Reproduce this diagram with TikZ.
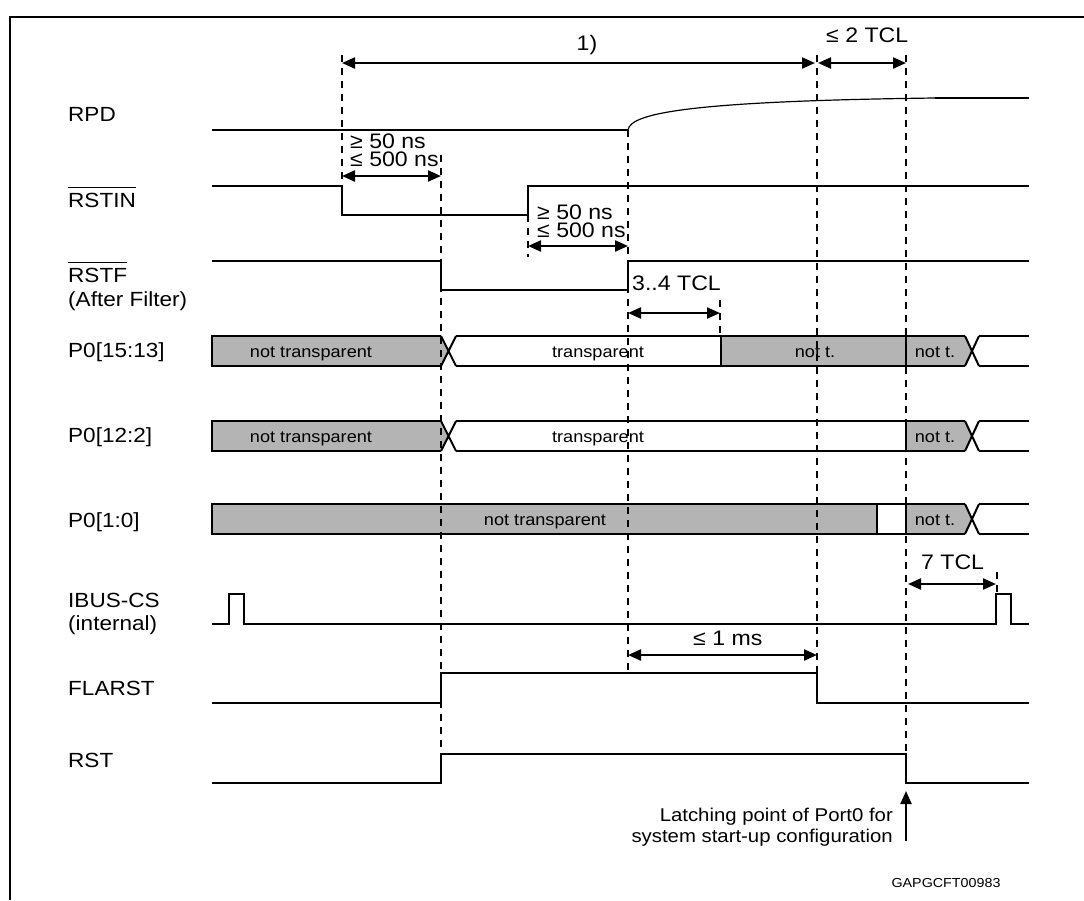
\documentclass[tikz,border=0pt]{standalone}
\usepackage{fontspec}
\setmainfont{Liberation Sans}[FakeStretch=1.1]
\usetikzlibrary{arrows.meta}
\definecolor{busgrey}{HTML}{B4B4B4}
\begin{document}
\begin{tikzpicture}[x=1pt,y=-1pt,
  sig/.style={line width=2pt},
  guide/.style={line width=1.8pt, dash pattern=on 7pt off 6pt},
  meas/.style={line width=2.2pt, {Triangle[length=13pt,width=11pt]}-{Triangle[length=13pt,width=11pt]}},
  uparrow/.style={line width=2.2pt, -{Triangle[length=13pt,width=11pt]}},
  lbl/.style={font=\fontsize{20.5}{24}\selectfont, anchor=base west, inner sep=0pt},
  ann/.style={font=\fontsize{21}{24}\selectfont, anchor=base west, inner sep=0pt},
  twoline/.style={font=\fontsize{21}{18}\selectfont, align=left, anchor=base west, inner sep=0pt},
  note/.style={font=\fontsize{18.5}{21}\selectfont, anchor=base east, inner sep=0pt},
  code/.style={font=\fontsize{13}{15}\selectfont, anchor=base, inner sep=0pt},
  bustxt/.style={font=\fontsize{16.5}{18}\selectfont, anchor=base, inner sep=0pt},
  ovl/.style={line width=1.6pt}]
\useasboundingbox (0,0) rectangle (1084,900);
% frame
\draw[line width=2pt] (10,900) -- (10,17) -- (1084,17);

% ---------- signal labels
\node[lbl] (lrpd) at (68,121) {RPD};
\node[lbl] (lrstin) at (68,207) {RSTIN};
\draw[ovl] ([yshift=5pt]lrstin.north west) -- ([yshift=5pt]lrstin.north east);
\node[lbl] (lrstf) at (68,282) {RSTF};
\draw[ovl] ([yshift=5pt]lrstf.north west) -- ([yshift=5pt]lrstf.north east);
\node[lbl] (lafter) at (68,306) {(After Filter)};
\node[lbl] (lp1) at (68,357) {P0[15:13]};
\node[lbl] (lp2) at (68,442) {P0[12:2]};
\node[lbl] (lp3) at (68,527) {P0[1:0]};
\node[lbl] (libus) at (68,607) {IBUS-CS};
\node[lbl] (lint) at (68,630) {(internal)};
\node[lbl] (lfla) at (68,695) {FLARST};
\node[lbl] (lrst) at (68,767) {RST};

% ---------- bus rows
% row 1: P0[15:13]
\begin{scope}[shift={(0,336)}]
  \fill[busgrey] (212,0) -- (441,0) -- (448.5,15) -- (441,30) -- (212,30) -- cycle;
  \fill[busgrey] (721,0) rectangle (906,30);
  \fill[busgrey] (906,0) -- (965,0) -- (972,15) -- (965,30) -- (906,30) -- cycle;
  \draw[sig] (441,0) -- (212,0) -- (212,30) -- (441,30);
  \draw[sig] (441,0) -- (456,30) (441,30) -- (456,0);
  \draw[sig] (456,0) -- (965,0) (456,30) -- (965,30);
  \draw[sig] (721,0) -- (721,30) (906,0) -- (906,30);
  \draw[sig] (965,0) -- (979,30) (965,30) -- (979,0);
  \draw[sig] (979,0) -- (1029,0) (979,30) -- (1029,30);
  \node[bustxt] (t1a) at (311,21) {not transparent};
  \node[bustxt] (t1b) at (598,21) {transparent};
  \node[bustxt] (t1c) at (815,21) {not t.};
  \node[bustxt] (t1d) at (935,21) {not t.};
\end{scope}
% row 2: P0[12:2]
\begin{scope}[shift={(0,421)}]
  \fill[busgrey] (212,0) -- (441,0) -- (448.5,15) -- (441,30) -- (212,30) -- cycle;
  \fill[busgrey] (906,0) -- (965,0) -- (972,15) -- (965,30) -- (906,30) -- cycle;
  \draw[sig] (441,0) -- (212,0) -- (212,30) -- (441,30);
  \draw[sig] (441,0) -- (456,30) (441,30) -- (456,0);
  \draw[sig] (456,0) -- (965,0) (456,30) -- (965,30);
  \draw[sig] (906,0) -- (906,30);
  \draw[sig] (965,0) -- (979,30) (965,30) -- (979,0);
  \draw[sig] (979,0) -- (1029,0) (979,30) -- (1029,30);
  \node[bustxt] (t2a) at (311,21) {not transparent};
  \node[bustxt] (t2b) at (598,21) {transparent};
  \node[bustxt] (t2d) at (935,21) {not t.};
\end{scope}
% row 3: P0[1:0]
\begin{scope}[shift={(0,504)}]
  \fill[busgrey] (212,0) rectangle (877,30);
  \fill[busgrey] (906,0) -- (965,0) -- (972,15) -- (965,30) -- (906,30) -- cycle;
  \draw[sig] (965,0) -- (212,0) -- (212,30) -- (965,30);
  \draw[sig] (877,0) -- (877,30) (906,0) -- (906,30);
  \draw[sig] (965,0) -- (979,30) (965,30) -- (979,0);
  \draw[sig] (979,0) -- (1029,0) (979,30) -- (1029,30);
  \node[bustxt] (t3a) at (545,21) {not transparent};
  \node[bustxt] (t3d) at (935,21) {not t.};
\end{scope}

% ---------- guides
\draw[guide] (342,55) -- (342,184);
\draw[guide] (441,155) -- (441,752);
\draw[guide] (528,215) -- (528,257);
\draw[guide] (628,130) -- (628,671);
\draw[guide] (720,300) -- (720,336);
\draw[guide] (817,55) -- (817,673);
\draw[guide] (906,55) -- (906,754);
\draw[guide] (997,572) -- (997,594);

% ---------- signals
\draw[sig] (212,130) -- (628,130);
\draw[line width=1.2pt] (628,130) .. controls (630,112) and (700,101) .. (935,98);
\draw[sig] (935,98) -- (1029,98);
\draw[sig] (212,186) -- (342,186) -- (342,215) -- (528,215) -- (528,186) -- (1029,186);
\draw[sig] (212,261) -- (441,261) -- (441,290) -- (628,290) -- (628,261) -- (1029,261);
\draw[sig] (212,624) -- (229,624) -- (229,594) -- (244,594) -- (244,624) -- (996,624) -- (996,594) -- (1011,594) -- (1011,624) -- (1029,624);
\draw[sig] (212,703) -- (441,703) -- (441,673) -- (817,673) -- (817,703) -- (1029,703);
\draw[sig] (212,783) -- (441,783) -- (441,754) -- (906,754) -- (906,783) -- (1029,783);

% ---------- measurements
\coordinate (m1a) at (342,63); \coordinate (m1b) at (815,63);
\coordinate (m2a) at (818,63); \coordinate (m2b) at (906,63);
\coordinate (m3a) at (342,176); \coordinate (m3b) at (441,176);
\coordinate (m4a) at (528,246); \coordinate (m4b) at (628,246);
\coordinate (m5a) at (628,313); \coordinate (m5b) at (720,313);
\coordinate (m6a) at (908,584); \coordinate (m6b) at (996,584);
\coordinate (m7a) at (628,655); \coordinate (m7b) at (817,655);
\coordinate (latS) at (906,841); \coordinate (latE) at (906,791);
\draw[meas] (m1a) -- (m1b);
\draw[meas] (m2a) -- (m2b);
\draw[meas] (m3a) -- (m3b);
\draw[meas] (m4a) -- (m4b);
\draw[meas] (m5a) -- (m5b);
\draw[meas] (m6a) -- (m6b);
\draw[meas] (m7a) -- (m7b);
\draw[uparrow] (latS) -- (latE);

\node[ann, anchor=base] (a1) at (587,50) {1)};
\node[ann] (a2) at (826,42) {≤ 2 TCL};
\node[twoline] (a3) at (350,166) {≥ 50 ns\\≤ 500 ns};
\node[twoline] (a5) at (537,237) {≥ 50 ns\\≤ 500 ns};
\node[ann] (a7) at (632,290) {3..4 TCL};
\node[ann] (a8) at (921,569) {7 TCL};
\node[ann] (a9) at (693,645) {≤ 1 ms};
\node[note] (n1) at (893,821) {Latching point of Port0 for};
\node[note] (n2) at (893,842) {system start-up configuration};
\node[code] (c1) at (946,887) {GAPGCFT00983};
\end{tikzpicture}
\end{document}
